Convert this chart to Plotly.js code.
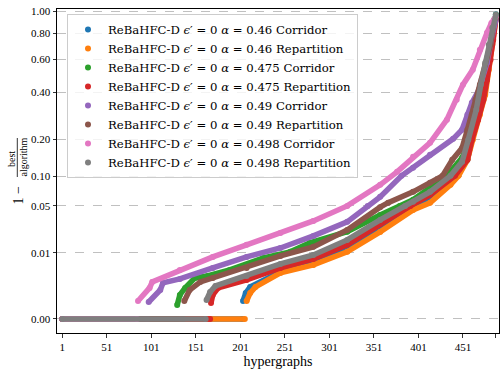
<!DOCTYPE html>
<html><head><meta charset="utf-8">
<script src="https://cdn.plot.ly/plotly-3.0.1.min.js"></script>
<style>html,body{margin:0;padding:0;background:#fff}#chart{width:504px;height:374px}</style>
</head><body><div id="chart"></div>
<script>
// Series labels and colours (tab10)
const seriesNames = [
  'ReBaHFC-D <i>ϵ</i>′ = 0 <i>α</i> = 0.46 Corridor',
  'ReBaHFC-D <i>ϵ</i>′ = 0 <i>α</i> = 0.46 Repartition',
  'ReBaHFC-D <i>ϵ</i>′ = 0 <i>α</i> = 0.475 Corridor',
  'ReBaHFC-D <i>ϵ</i>′ = 0 <i>α</i> = 0.475 Repartition',
  'ReBaHFC-D <i>ϵ</i>′ = 0 <i>α</i> = 0.49 Corridor',
  'ReBaHFC-D <i>ϵ</i>′ = 0 <i>α</i> = 0.49 Repartition',
  'ReBaHFC-D <i>ϵ</i>′ = 0 <i>α</i> = 0.498 Corridor',
  'ReBaHFC-D <i>ϵ</i>′ = 0 <i>α</i> = 0.498 Repartition'
];
const seriesColors = ['#1f77b4','#ff7f0e','#2ca02c','#d62728','#9467bd','#8c564b','#e377c2','#7f7f7f'];

// number of hypergraphs (sorted) with value 0 for each series
const zeroRuns = [203, 206, 129, 167, 97, 137, 85, 162];

// sorted non-zero values (hypergraph rank, 1 - best/algorithm)
const blueX = [204,207,212,246,283,321,358,392,414,442,456,462,470,476,480,484,488];
const blueY = [0.000201,0.000606,0.00113,0.00358,0.00638,0.0118,0.0260,0.0471,0.0626,0.0987,0.1385,0.2147,0.315,0.442,0.599,0.748,0.97];

const orangeX = [208,212,218,246,283,321,358,395,414,437,446,456,462,470,476,480,484,488];
const orangeY = [0.000201,0.000606,0.00113,0.00335,0.00543,0.0104,0.0227,0.0446,0.0538,0.0829,0.1008,0.1385,0.1976,0.2925,0.387,0.532,0.709,0.93];

const greenX = [130,133,139,150,164,189,227,257,279,321,358,380,395,414,433,450,461,468,474,479,484,488];
const greenY = [0.0000946,0.000476,0.00103,0.00238,0.00274,0.00406,0.00782,0.0104,0.0151,0.0229,0.0386,0.0497,0.0581,0.0775,0.1008,0.144,0.215,0.315,0.414,0.565,0.748,0.968];

const redX = [168,170,176,208,246,283,321,358,392,414,442,456,461,468,474,478,482,485,488];
const redY = [0.000141,0.000476,0.00103,0.00204,0.00457,0.00744,0.0140,0.0295,0.0497,0.0657,0.1008,0.1385,0.1976,0.272,0.362,0.470,0.599,0.748,0.93];

const purpleX = [98,111,114,133,170,208,246,283,321,344,358,382,395,414,440,450,456,461,469,472,478,484,488];
const purpleY = [0.000169,0.00084,0.00161,0.00221,0.00457,0.00821,0.0123,0.0197,0.0315,0.0497,0.0626,0.1008,0.119,0.152,0.201,0.233,0.293,0.347,0.414,0.470,0.578,0.789,0.92];

const brownX = [138,144,156,170,208,246,283,321,358,367,395,414,428,439,450,456,461,465,470,476,482,486,488];
const brownY = [0.000201,0.00084,0.00175,0.00238,0.00457,0.00862,0.0129,0.0243,0.0480,0.0540,0.0706,0.0867,0.1008,0.1385,0.172,0.233,0.293,0.362,0.442,0.565,0.709,0.921,0.94];

const pinkX = [86,99,102,133,170,208,246,283,321,358,377,395,414,433,444,451,462,470,478,483,488];
const pinkY = [0.000201,0.00103,0.00175,0.00406,0.00821,0.0140,0.0219,0.0324,0.0497,0.0829,0.1095,0.1465,0.188,0.272,0.362,0.442,0.532,0.671,0.806,0.89,0.95];

const grayX = [163,167,173,208,246,283,321,358,386,395,414,437,450,457,466,471,476,480,484,488];
const grayY = [0.000236,0.000678,0.00124,0.00274,0.00573,0.00904,0.0170,0.0334,0.0497,0.0552,0.0706,0.1008,0.1334,0.1976,0.315,0.442,0.578,0.709,0.849,0.968];

const seriesX = [blueX, orangeX, greenX, redX, purpleX, brownX, pinkX, grayX];
const seriesY = [blueY, orangeY, greenY, redY, purpleY, brownY, pinkY, grayY];

// axis ticks
const xTicks = [1,51,101,151,201,251,301,351,401,451,488];
const yTicks = [0,0.01,0.05,0.1,0.2,0.4,0.6,0.8,1.0];
const yTickText = ['0.00','0.01','0.05','0.10','0.20','0.40','0.60','0.80','1.00'];

// the y axis uses a cube-root scale
const fwd = v => Math.cbrt(v);

const FONT = 'Liberation Serif, Times New Roman, serif';
const LFONT = 'DejaVu Serif, serif';
const traces = [];
seriesX.forEach((xs, i) => {
  traces.push({
    x: [1, zeroRuns[i], null].concat(xs),
    y: [fwd(0), fwd(0), null].concat(seriesY[i].map(fwd)),
    type: 'scatter', mode: 'lines+markers',
    line: {color: seriesColors[i], width: 5.5},
    marker: {color: seriesColors[i], size: 6},
    showlegend: false, hoverinfo: 'skip'
  });
});
seriesNames.forEach((n, i) => {
  traces.push({
    x: [null], y: [null], type: 'scatter', mode: 'markers', name: n,
    marker: {color: seriesColors[i], size: 6}, showlegend: true
  });
});

const W = 442, H = 324, L = 57, T = 9;
const px2x = p => (p - L) / W;
const py2y = p => (T + H - p) / H;

const layout = {
  width: 504, height: 374,
  margin: {l: L, r: 5, t: T, b: 41},
  paper_bgcolor: '#fff', plot_bgcolor: '#fff',
  font: {family: FONT, color: '#000', size: 11},
  showlegend: true,
  legend: {
    x: px2x(67), y: py2y(14), xanchor: 'left', yanchor: 'top',
    bgcolor: 'rgba(255,255,255,0.8)', bordercolor: '#cccccc', borderwidth: 1,
    font: {family: LFONT, size: 11.7, color: '#000'}
  },
  xaxis: {
    range: [-5, 491.5], tickvals: xTicks, ticktext: xTicks.map(String),
    ticks: 'outside', ticklen: 3.5, tickwidth: 0.8, tickcolor: '#000',
    showline: true, linecolor: '#000', linewidth: 1, mirror: true,
    showgrid: false, zeroline: false,
    tickfont: {family: FONT, size: 11},
    title: {text: 'hypergraphs', font: {family: FONT, size: 14}, standoff: 4}
  },
  yaxis: {
    range: [-0.0456, 1.0078], tickvals: yTicks.map(fwd), ticktext: yTickText,
    ticks: 'outside', ticklen: 3.5, tickwidth: 0.8, tickcolor: '#000',
    showline: true, linecolor: '#000', linewidth: 1, mirror: true,
    showgrid: true, gridcolor: '#b0b0b0', gridwidth: 0.8, griddash: 'dash',
    zeroline: false, tickfont: {family: FONT, size: 11}
  },
  annotations: [
    {xref: 'paper', yref: 'paper', x: px2x(17.5), y: py2y(195), text: '1 −', textangle: -90,
     showarrow: false, xanchor: 'center', yanchor: 'middle', font: {family: FONT, size: 14}},
    {xref: 'paper', yref: 'paper', x: px2x(12), y: py2y(159), text: 'best', textangle: -90,
     showarrow: false, xanchor: 'center', yanchor: 'middle', font: {family: FONT, size: 10}},
    {xref: 'paper', yref: 'paper', x: px2x(22.5), y: py2y(157), text: 'algorithm', textangle: -90,
     showarrow: false, xanchor: 'center', yanchor: 'middle', font: {family: FONT, size: 10}}
  ],
  shapes: [
    {type: 'line', xref: 'paper', yref: 'paper', x0: px2x(17.3), x1: px2x(17.3), y0: py2y(177), y1: py2y(138),
     line: {color: '#000', width: 0.8}}
  ]
};

Plotly.newPlot('chart', traces, layout, {displayModeBar: false, staticPlot: true});
</script>
</body></html>
